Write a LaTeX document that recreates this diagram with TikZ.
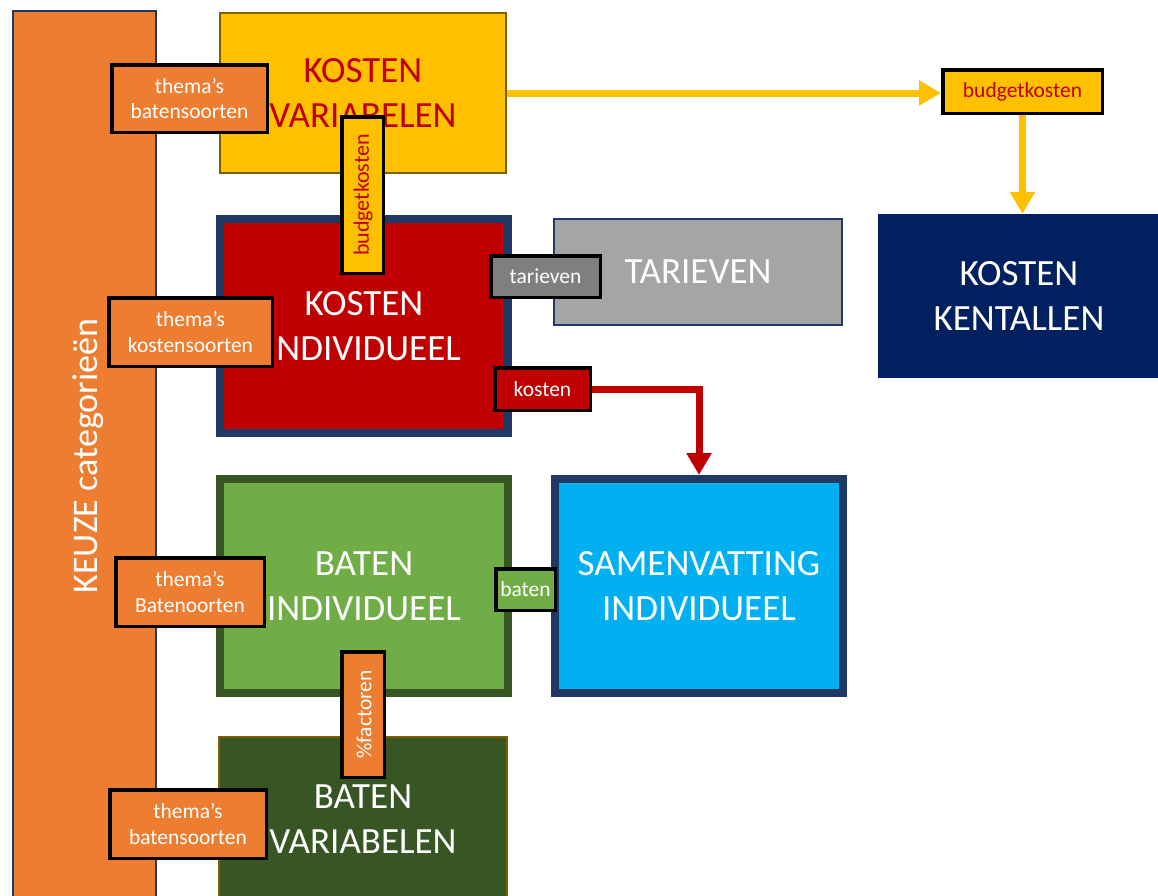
\documentclass[tikz,border=0pt]{standalone}
\usepackage{fontspec}
\setmainfont{Carlito}
\usetikzlibrary{arrows.meta}
\definecolor{korange}{HTML}{ED7D31}
\definecolor{kyellow}{HTML}{FFC000}
\definecolor{kred}{HTML}{C00000}
\definecolor{knavy}{HTML}{1F3864}
\definecolor{kdeep}{HTML}{002060}
\definecolor{kgrey}{HTML}{A5A5A5}
\definecolor{kgreydark}{HTML}{7F7F7F}
\definecolor{kgreen}{HTML}{70AD47}
\definecolor{kgreendark}{HTML}{375623}
\definecolor{kbrown}{HTML}{7F6000}
\definecolor{kblue}{HTML}{00B0F0}
\tikzset{
  block/.style={rectangle, inner sep=0pt, align=center, text=white,
    font=\fontsize{37}{45}\selectfont},
  thinline/.style={line width=2pt},
  thickline/.style={line width=8pt},
  tag/.style={rectangle, inner sep=0pt, align=center, text=white,
    draw=black, line width=3.5pt, font=\fontsize{21.5}{25.5}\selectfont},
  flow/.style={line width=7pt, -{Triangle[length=22pt,width=24pt]}},
}
\begin{document}
\begin{tikzpicture}[x=1pt,y=-1pt]
\useasboundingbox (0,0) rectangle (1158,895);

% side bar
\node[block, thinline, draw=knavy, fill=korange, minimum width=143pt,
  minimum height=896pt] (keuze) at (84.5,459) {};
\node[text=white, rotate=90, font=\fontsize{36}{42}\selectfont] (keuzetxt)
  at (88,456) {KEUZE categorieën};

% main blocks
\node[block, thinline, draw=kbrown, fill=kyellow, text=kred,
  minimum width=286pt, minimum height=160pt] (kv) at (363,93)
  {KOSTEN\\VARIABELEN};
\node[block, thickline, draw=knavy, fill=kred,
  minimum width=288pt, minimum height=214pt] (ki) at (364,326)
  {KOSTEN\\INDIVIDUEEL};
\node[block, thinline, draw=knavy, fill=kgrey,
  minimum width=288pt, minimum height=106pt] (tar) at (698,272)
  {TARIEVEN};
\node[block, fill=kdeep, minimum width=282pt, minimum height=164pt]
  (kk) at (1019,296) {KOSTEN\\KENTALLEN};
\node[block, thickline, draw=kgreendark, fill=kgreen,
  minimum width=288pt, minimum height=214pt] (bi) at (364,586)
  {BATEN\\INDIVIDUEEL};
\node[block, thickline, draw=knavy, fill=kblue,
  minimum width=288pt, minimum height=214pt] (sam) at (699,586)
  {SAMENVATTING\\INDIVIDUEEL};
\node[block, thinline, draw=kbrown, fill=kgreendark,
  minimum width=288pt, minimum height=170pt] (bv) at (363,822) {};
\node[block] (bvtxt) at (363,819) {BATEN\\VARIABELEN};

% budget tag on the right
\node[tag, text=kred, fill=kyellow, minimum width=159.5pt,
  minimum height=43.5pt] (bk) at (1022.5,91.5) {budgetkosten};

% connectors
\draw[flow, draw=kyellow] (kv.east) -- (kv.east -| bk.west);
\draw[flow, draw=kyellow] (bk.south) -- (bk.south |- kk.north);

% tags on the blocks
\node[tag, fill=korange, minimum width=155.5pt, minimum height=67.5pt]
  (t1) at (189.5,98.5) {thema’s\\batensoorten};
\node[tag, fill=kyellow, text=kred, minimum width=41.5pt,
  minimum height=156.5pt] (vb) at (362.5,195) {};
\node[text=kred, rotate=90, font=\fontsize{22}{26}\selectfont]
  (vbtxt) at (363,195) {budgetkosten};
\node[tag, fill=korange, minimum width=163.5pt, minimum height=68.5pt]
  (t2) at (190.5,332) {thema’s\\kostensoorten};
\node[tag, fill=kgreydark, minimum width=109.5pt, minimum height=41.5pt]
  (ttar) at (545.5,276.5) {tarieven};
\node[tag, fill=kred, minimum width=95.5pt, minimum height=42.5pt]
  (tkos) at (542.5,389) {kosten};
\draw[flow, draw=kred] (tkos.east) -| (sam.north);
\node[tag, fill=korange, minimum width=148.5pt, minimum height=68.5pt]
  (t3) at (190,592) {thema’s\\Batenoorten};
\node[tag, fill=kgreen, minimum width=59.5pt, minimum height=41.5pt]
  (tbat) at (525.5,589.5) {baten};
\node[tag, fill=korange, minimum width=42.5pt, minimum height=125.5pt]
  (tfac) at (363,714.5) {};
\node[text=white, rotate=90, font=\fontsize{21.5}{25}\selectfont]
  (tfactxt) at (364,714.5) {\%factoren};
\node[tag, fill=korange, minimum width=156.5pt, minimum height=68.5pt]
  (t4) at (188,824) {thema’s\\batensoorten};
\end{tikzpicture}
\end{document}
